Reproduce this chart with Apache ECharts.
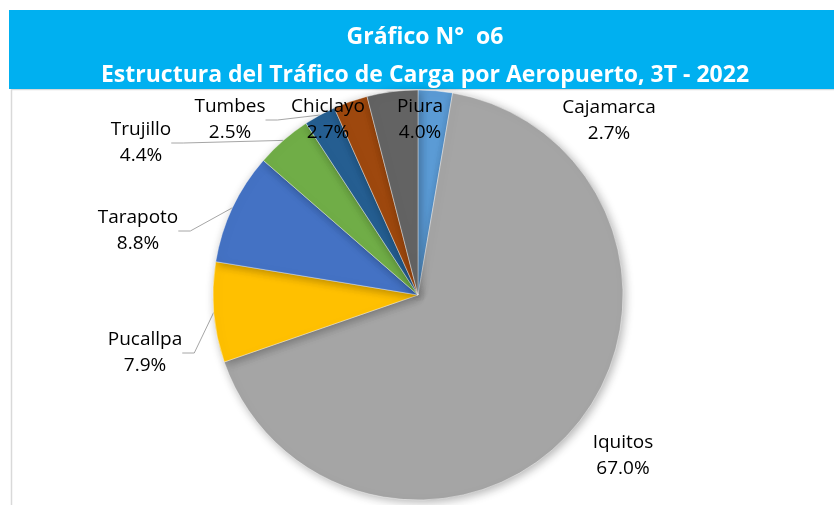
<!DOCTYPE html>
<html>
<head>
<meta charset="utf-8">
<script src="https://cdn.jsdelivr.net/npm/echarts@6/dist/echarts.min.js"></script>
<style>
  html, body { margin: 0; padding: 0; background: #fff; }
  #chart { width: 834px; height: 505px; }
</style>
</head>
<body>
<div id="chart"></div>
<script>
// datos del gráfico (participación %)
const airports = ['Cajamarca', 'Iquitos', 'Pucallpa', 'Tarapoto', 'Trujillo', 'Tumbes', 'Chiclayo', 'Piura']
const shares = [2.7, 67.0, 7.9, 8.8, 4.4, 2.5, 2.7, 4.0]
const colors = ['#5B9BD5', '#A5A5A5', '#FFC000', '#4472C4', '#70AD47', '#255E91', '#9E480E', '#636363']

// posición de las etiquetas (como en el original de Excel)
const labelPos = [[609, 121], [623, 456], [145, 353], [138, 231], [141, 143], [230, 120], [328, 120], [420, 120]]
const withLine = [false, false, true, true, true, true, false, false]

const titleText = 'Gráfico N°  o6'
const subTitleText = 'Estructura del Tráfico de Carga por Aeropuerto, 3T - 2022'

let myChart = echarts.init(document.getElementById('chart'))

let data = airports.map((name, i) => ({
  name: name,
  value: shares[i],
  labelLine: { show: withLine[i] }
}))

let option = {
  animation: false,
  color: colors,
  graphic: [
    {
      type: 'rect',
      shape: { x: 11.5, y: 89.5, width: 900, height: 500 },
      style: { fill: '#fff', stroke: '#D9D9D9', lineWidth: 1.5 },
      z: -10
    },
    {
      type: 'rect',
      shape: { x: 9, y: 10, width: 830, height: 79 },
      style: { fill: '#00B0F0' },
      z: -5
    }
  ],
  title: {
    text: titleText,
    subtext: subTitleText,
    left: 420,
    top: 21,
    textAlign: 'center',
    itemGap: 15,
    textStyle: {
      color: '#fff',
      fontFamily: 'Open Sans',
      fontWeight: 'bold',
      fontSize: 23
    },
    subtextStyle: {
      color: '#fff',
      fontFamily: 'Open Sans',
      fontWeight: 'bold',
      fontSize: 23
    }
  },
  series: [
    {
      type: 'pie',
      center: [418, 295],
      radius: 205,
      startAngle: 90,
      clockwise: true,
      data: data,
      itemStyle: {
        borderColor: 'rgba(255,255,255,0.6)',
        borderWidth: 0.7,
        shadowBlur: 10,
        shadowOffsetX: 2,
        shadowOffsetY: 2,
        shadowColor: 'rgba(0,0,0,0.3)'
      },
      label: {
        show: true,
        position: 'outside',
        formatter: p => p.name + '\n' + p.value.toFixed(1) + '%',
        color: '#000',
        fontFamily: 'Open Sans',
        fontSize: 19,
        lineHeight: 26,
        align: 'center'
      },
      labelLine: {
        length: 10,
        length2: 12,
        lineStyle: { color: '#A6A6A6', width: 1 }
      },
      labelLayout: function(params) {
        let pos = labelPos[params.dataIndex]
        return {
          x: pos[0],
          y: pos[1],
          align: 'center',
          verticalAlign: 'middle'
        }
      }
    }
  ]
}

option && myChart.setOption(option)
</script>
</body>
</html>
